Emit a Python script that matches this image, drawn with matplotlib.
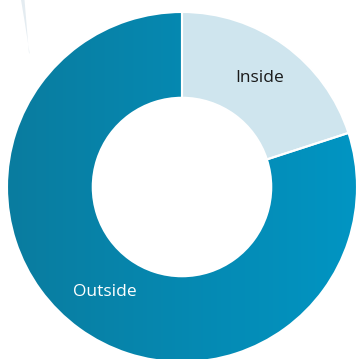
import matplotlib
matplotlib.use("Agg")
import matplotlib.pyplot as plt
import numpy as np
from matplotlib.colors import LinearSegmentedColormap

# share of sites by location
labels = ["Inside", "Outside"]
shares = [20, 80]

plt.rcParams['font.family'] = ['Open Sans', 'DejaVu Sans']

fig = plt.figure(figsize=(3.57, 3.59), dpi=100)
ax = fig.add_axes([0, 0, 1, 1])

wedges, _ = ax.pie(shares, startangle=90, counterclock=False, radius=1,
                   colors=["#cfe5ee", "none"],
                   wedgeprops=dict(width=0.49, edgecolor="white", linewidth=1.5))

# pie resets the limits, so place the ring afterwards
ax.set_xlim(-182 / 175, 175 / 175)
ax.set_ylim(-172 / 175, 187 / 175)
ax.set_aspect("equal")
ax.axis("off")

# left-to-right gradient for the big slice
cmap = LinearSegmentedColormap.from_list("teal", ["#0a7c9f", "#0195c3"])
grad = np.linspace(0, 1, 256).reshape(1, -1)
img = ax.imshow(grad, cmap=cmap, extent=[-1, 1, -1, 1], aspect="auto", zorder=0.5)
img.set_clip_path(wedges[1])
ax.set_xlim(-182 / 175, 175 / 175)
ax.set_ylim(-172 / 175, 187 / 175)

# faint brush mark top left
ax.fill([-0.92, -0.9, -0.875, -0.87, -0.9], [1.07, 1.07, 0.77, 0.76, 0.95],
        color="#e4ecf1", lw=0, zorder=0)

ax.text(0.445, 0.62, labels[0], ha="center", va="center", fontsize=12.5, color="#1a1a1a")
ax.text(-0.44, -0.6, labels[1], ha="center", va="center", fontsize=12.5, color="white")

fig.savefig("out.png", dpi=100)
